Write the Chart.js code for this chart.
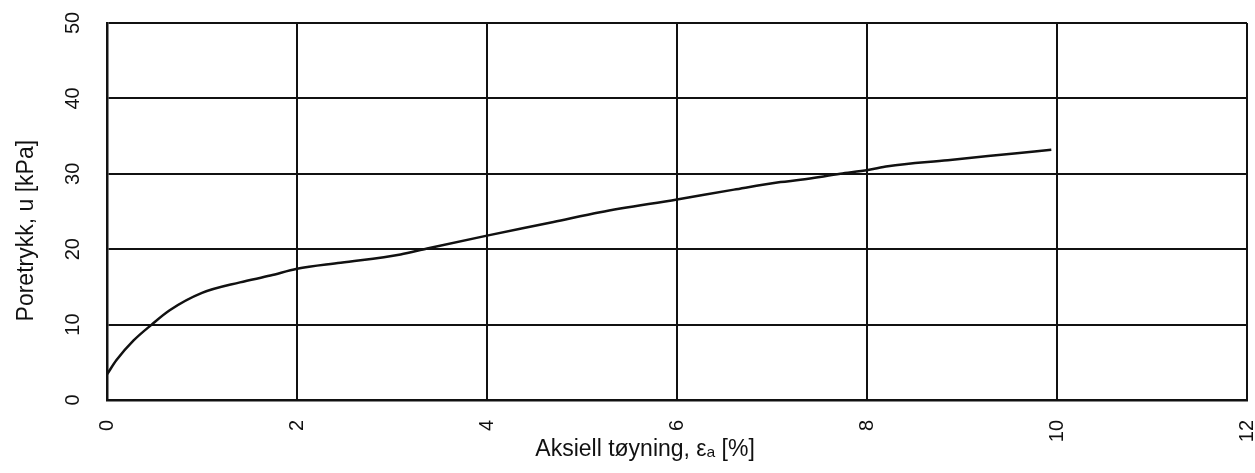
<!DOCTYPE html>
<html>
<head>
<meta charset="utf-8">
<script src="https://cdn.jsdelivr.net/npm/chart.js@4/dist/chart.umd.min.js"></script>
<style>
html,body{margin:0;padding:0;background:#fff;}
#wrap{width:1255px;height:473px;position:relative;}
</style>
</head>
<body>
<div id="wrap"><canvas id="c" width="1255" height="473"></canvas></div>
<script>
const strain = [0, 0.1, 0.28, 0.47, 0.66, 1.0, 1.4, 1.72, 2.0, 2.46, 3.09, 3.37, 4.0, 4.7, 5.19, 6.0, 6.6, 7.09, 7.3, 7.72, 8.01, 8.22, 8.85, 9.55, 9.94];
const porePressure = [3.4, 5.3, 7.9, 10.0, 11.9, 14.2, 15.6, 16.5, 17.4, 18.2, 19.3, 20.1, 21.8, 23.6, 24.9, 26.6, 27.9, 28.9, 29.2, 30.0, 30.5, 31.0, 31.8, 32.7, 33.2];
const xTicks = [0, 2, 4, 6, 8, 10, 12];
const yTicks = [0, 10, 20, 30, 40, 50];
const xTitle = 'Aksiell tøyning, εₐ [%]';
const yTitle = 'Poretrykk, u [kPa]';

const points = strain.map((x, i) => ({x: x, y: porePressure[i]}));
const FONT = "'Liberation Sans', Arial, sans-serif";
const INK = '#111';
const NB = '\u00A0';

new Chart(document.getElementById('c'), {
  type: 'scatter',
  data: {
    datasets: [{
      data: points,
      showLine: true,
      borderColor: INK,
      borderWidth: 2.5,
      pointRadius: 0,
      cubicInterpolationMode: 'monotone',
      fill: false
    }]
  },
  options: {
    responsive: false,
    animation: false,
    devicePixelRatio: 1,
    layout: {padding: {top: 23, right: 8, bottom: 0, left: 0}},
    plugins: {legend: {display: false}, tooltip: {enabled: false}},
    scales: {
      x: {
        type: 'linear',
        min: 0, max: 12,
        afterBuildTicks: s => { s.ticks = xTicks.map(v => ({value: v})); },
        afterFit: s => { s.height = 73; s.paddingLeft = 0; s.paddingRight = 0; },
        ticks: {
          minRotation: 90, maxRotation: 90,
          padding: 20,
          color: INK,
          font: {family: FONT, size: 20}
        },
        grid: {color: INK, lineWidth: 2, drawTicks: false},
        border: {display: true, color: INK, width: 2.5},
        title: {
          display: true, text: xTitle + NB.repeat(10), color: INK,
          font: {family: FONT, size: 23},
          padding: {top: 0, bottom: 10}
        }
      },
      y: {
        type: 'linear',
        min: 0, max: 50,
        afterBuildTicks: s => { s.ticks = yTicks.map(v => ({value: v})); },
        afterFit: s => { s.width = 107; s.paddingTop = 0; s.paddingBottom = 0; },
        ticks: {
          minRotation: 90, maxRotation: 90,
          crossAlign: 'center',
          padding: 22,
          color: INK,
          font: {family: FONT, size: 20}
        },
        grid: {color: INK, lineWidth: 2, drawTicks: false},
        border: {display: true, color: INK, width: 2.5},
        title: {
          display: true, text: yTitle + NB.repeat(6), color: INK,
          font: {family: FONT, size: 23},
          padding: {top: 13, bottom: 0}
        }
      }
    }
  }
});
</script>
</body>
</html>
